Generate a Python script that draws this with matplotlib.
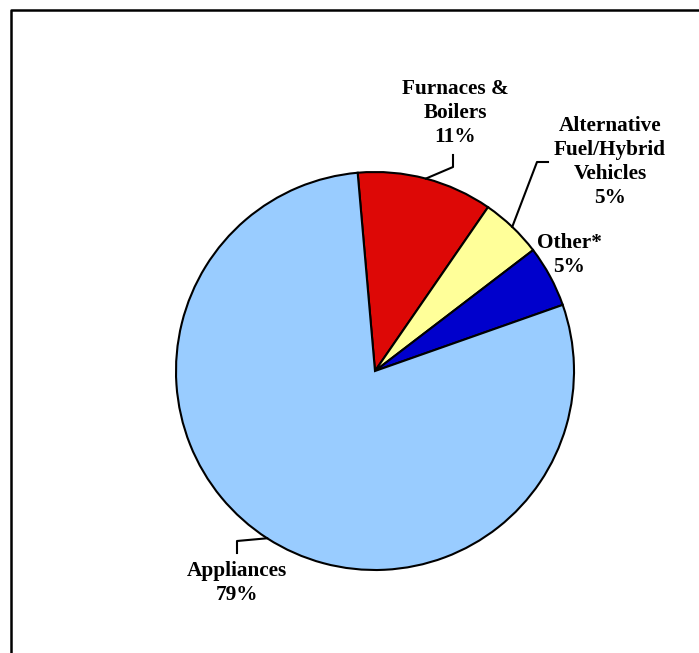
import numpy as np
import matplotlib
matplotlib.use('Agg')
import matplotlib.pyplot as plt

# energy use shares by category
labels = ['Furnaces &\nBoilers', 'Alternative\nFuel/Hybrid\nVehicles', 'Other*', 'Appliances']
shares = [11, 5, 5, 79]
colors = ['#DD0806', '#FFFF99', '#0000CC', '#99CCFF']

plt.rcParams['font.family'] = ['Liberation Serif', 'DejaVu Serif']

fig = plt.figure(figsize=(6.99, 6.53), dpi=100)
ax = fig.add_axes([0, 0, 1, 1])

cx, cy, r = 375, 282, 199
wedges, _ = ax.pie(shares, colors=colors, startangle=95, counterclock=False,
                   center=(cx, cy), radius=r,
                   wedgeprops=dict(edgecolor='black', linewidth=1.5))
ax.set_xlim(0, 699)
ax.set_ylim(0, 653)
ax.set_aspect('equal')
ax.axis('off')

def mid_point(w):
    a = np.deg2rad((w.theta1 + w.theta2) / 2)
    return cx + r * np.cos(a), cy + r * np.sin(a)

# label text positions and leader line bends
text_pos = [(455, 540), (610, 491), (569, 398), (237, 70)]
leaders = [[(453, 486), (453, 498)],
           [(537, 491), (548, 491)],
           None,
           [(237, 112), (237, 100)]]

for w, lab, val, (tx, ty), bend in zip(wedges, labels, shares, text_pos, leaders):
    ax.text(tx, ty, f'{lab}\n{val}%', ha='center', va='center',
            fontsize=15.3, fontweight='bold', linespacing=1.25)
    if bend:
        pts = [mid_point(w)] + bend
        xs, ys = zip(*pts)
        ax.plot(xs, ys, color='black', linewidth=1.5)

# outer frame
ax.plot([11, 11, 699], [0, 643, 643], color='black', linewidth=1.8, clip_on=False)

fig.savefig('out.png', dpi=100)
